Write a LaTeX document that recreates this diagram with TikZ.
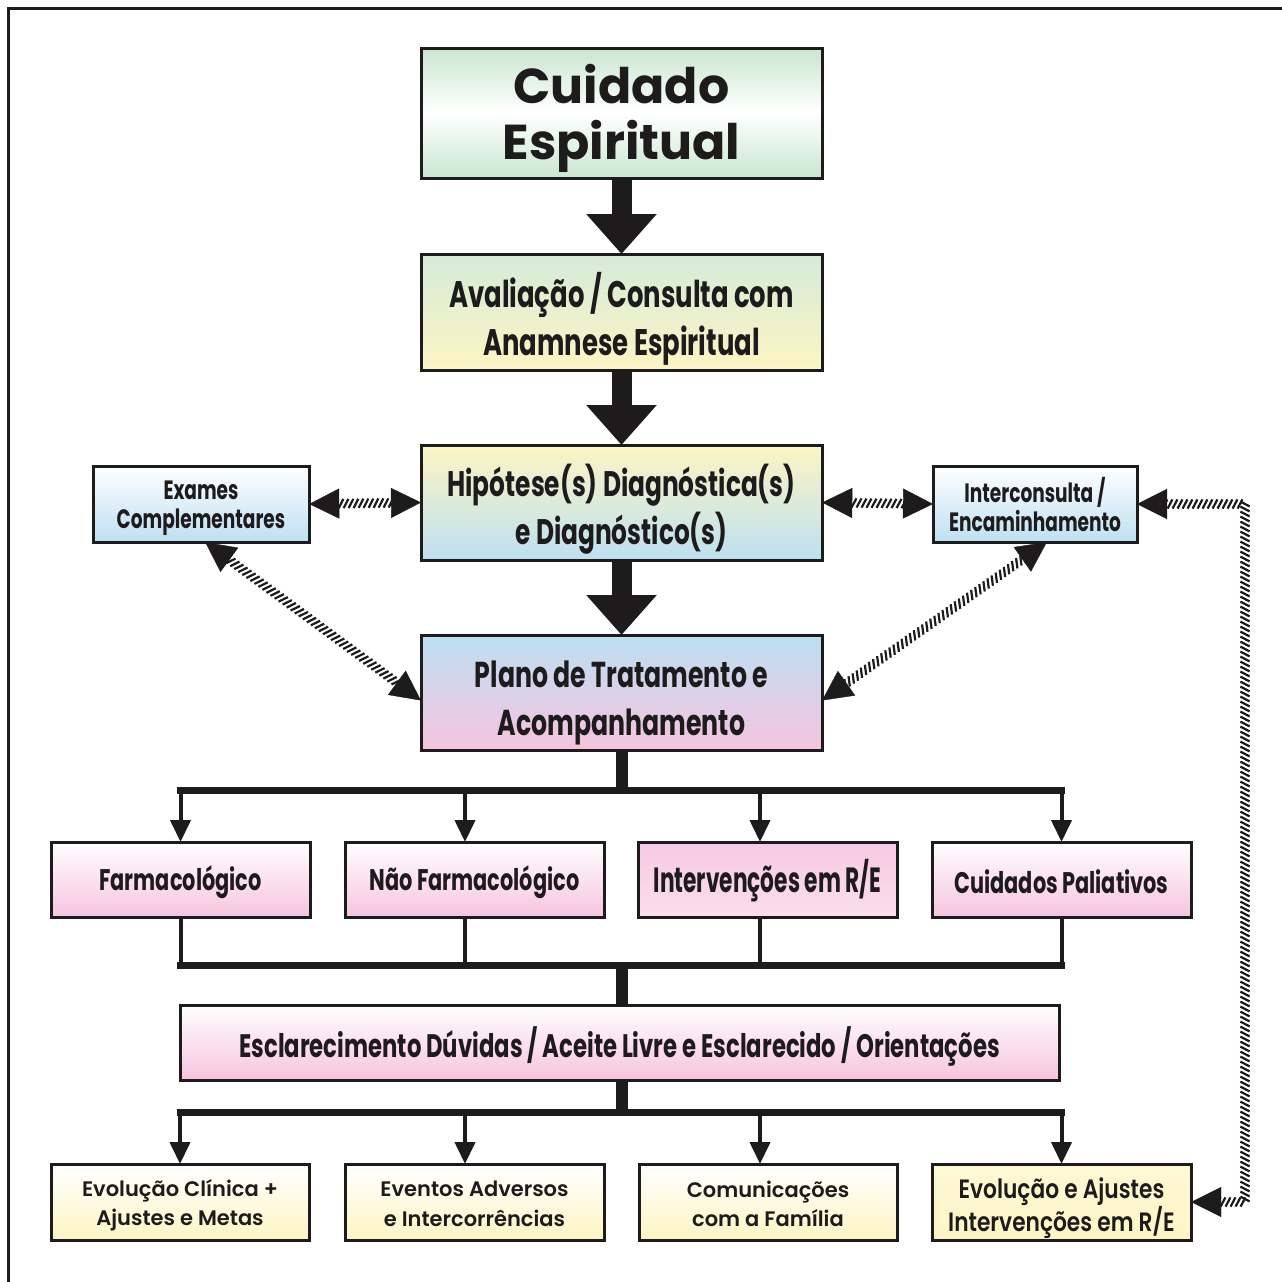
\documentclass[tikz,border=0pt]{standalone}
\usepackage{fontspec}
\usetikzlibrary{arrows.meta,decorations.markings,calc}
\newfontfamily\geo{Poppins}
\newfontfamily\geosb{Poppins SemiBold}
\newfontfamily\cnd[FakeStretch=0.7]{Poppins}
\newfontfamily\cndx[FakeStretch=0.62]{Poppins}
\newfontfamily\cndb[FakeStretch=0.82]{Poppins SemiBold}
\definecolor{gr}{HTML}{C9E6CF}
\definecolor{yl}{HTML}{FDF5C4}
\definecolor{bl}{HTML}{BDE0F2}
\definecolor{pk}{HTML}{F6C4DF}
\definecolor{ink}{HTML}{1E1B1C}
\tikzset{
  box/.style={draw=ink, line width=3pt, inner sep=0pt, outer sep=0pt, align=center, text=ink},
  lbl/.style={text=ink, align=center, inner sep=0pt},
  bigarrow/.style={draw=ink, fill=ink, line width=20pt, -{Triangle[length=40pt,width=68pt]}},
  stem/.style={draw=ink, line width=12pt},
  bar/.style={draw=ink, line width=7pt, line cap=rect},
  drop/.style={draw=ink, line width=4pt},
  droparrow/.style={draw=ink, line width=4pt, -{Triangle[length=22pt,width=20pt]}},
  hatch/.style={decoration={markings,
     mark=at position 0.2pt with {\arrowreversed[ink]{Triangle[length=30pt,width=30pt]}},
     mark=between positions 27pt and -27pt step 5pt with {\draw[ink, line width=2.2pt] (-2.4pt,-4.6pt) -- (2.4pt,4.6pt);},
     mark=at position 1 with {\arrow[ink]{Triangle[length=30pt,width=30pt]}}},
     postaction=decorate},
  ftitle/.style={font=\geo\bfseries\fontsize{49}{56}\selectfont},
  fsmall/.style={font=\cnd\bfseries\fontsize{26.5}{29}\selectfont},
  frow/.style={font=\cnd\bfseries\fontsize{29.8}{32}\selectfont},
  fbot/.style={font=\geosb\fontsize{21}{29.5}\selectfont},
}
\begin{document}
\begin{tikzpicture}[x=1pt,y=-1pt]
\useasboundingbox (0,0) rectangle (1282,1282);
\fill[white] (0,0) rectangle (1282,1282);
\draw[ink, line width=3pt] (8,1300) -- (8,8) -- (1300,8);

% main column
\node[box, minimum width=401pt, minimum height=130pt, top color=gr, bottom color=gr, middle color=white,
  label={[lbl, ftitle, yshift=-5pt]center:{Cuidado\\Espiritual}}] (cuid) at (621.5,113) {};
\node[box, minimum width=401pt, minimum height=116pt, top color=gr!80, bottom color=yl,
  label={[lbl, font=\cnd\bfseries\fontsize{37}{48}\selectfont, yshift=-7pt]center:{Avaliação / Consulta com\\Anamnese Espiritual}}] (aval) at (621.5,312) {};
\node[box, minimum width=401pt, minimum height=115pt, top color=yl, bottom color=bl,
  label={[lbl, font=\cnd\bfseries\fontsize{35.5}{48}\selectfont, yshift=-7pt]center:{Hipótese(s) Diagnóstica(s)\\e Diagnóstico(s)}}] (hyp) at (621.5,502.5) {};
\node[box, minimum width=401pt, minimum height=115pt, top color=bl, bottom color=pk,
  label={[lbl, font=\cnd\bfseries\fontsize{36}{48}\selectfont, yshift=-10pt]center:{Plano de Tratamento e\\Acompanhamento}}] (plan) at (621.5,692.5) {};

\node[box, minimum width=216pt, minimum height=76pt, top color=white, bottom color=bl,
  label={[lbl, fsmall, yshift=-4pt]center:{Exames\\Complementares}}] (ex) at (201,504) {};
\node[box, minimum width=204pt, minimum height=76pt, top color=white, bottom color=bl,
  label={[lbl, fsmall, yshift=-1pt]center:{Interconsulta /\\Encaminhamento}}] (inter) at (1035,504) {};

% row of treatments
\node[box, minimum width=259pt, minimum height=75pt, top color=white, bottom color=pk,
  label={[lbl, frow, yshift=-3pt]center:Farmacológico}] (farm) at (180.5,879.5) {};
\node[box, minimum width=259pt, minimum height=75pt, top color=white, bottom color=pk,
  label={[lbl, frow, yshift=-3pt]center:Não Farmacológico}] (nf) at (474.5,879.5) {};
\node[box, minimum width=259pt, minimum height=75pt, top color=pk!90, bottom color=pk!55,
  label={[lbl, font=\cndx\bfseries\fontsize{35}{38}\selectfont, yshift=-1pt]center:Intervenções em R/E}] (int) at (767.5,879.5) {};
\node[box, minimum width=259pt, minimum height=75pt, top color=white, bottom color=pk,
  label={[lbl, frow, yshift=-2pt]center:Cuidados Paliativos}] (cp) at (1061.5,879.5) {};

\node[box, minimum width=879pt, minimum height=75pt, top color=white, bottom color=pk,
  label={[lbl, font=\cnd\bfseries\fontsize{32.5}{34}\selectfont, yshift=-4pt]center:Esclarecimento Dúvidas / Aceite Livre e Esclarecido / Orientações}] (escl) at (619.5,1042.5) {};

% bottom row
\node[box, minimum width=258pt, minimum height=76pt, top color=white, bottom color=yl,
  label={[lbl, fbot, yshift=-3pt]center:{Evolução Clínica +\\Ajustes e Metas}}] (ev1) at (180,1202) {};
\node[box, minimum width=259pt, minimum height=76pt, top color=white, bottom color=yl,
  label={[lbl, fbot, yshift=-2pt]center:{Eventos Adversos\\e Intercorrências}}] (ev2) at (474.5,1202) {};
\node[box, minimum width=258pt, minimum height=76pt, top color=white, bottom color=yl,
  label={[lbl, fbot, yshift=-2pt]center:{Comunicações\\com a Família}}] (com) at (768,1202) {};
\node[box, minimum width=259pt, minimum height=76pt, top color=yl!70, bottom color=yl,
  label={[lbl, font=\cndb\fontsize{26.5}{30}\selectfont, yshift=-6pt]center:{Evolução e Ajustes\\Intervenções em R/E}}] (ev4) at (1061.5,1202) {};

% big arrows
\draw[bigarrow] (cuid.south) -- (aval.north);
\draw[bigarrow] (aval.south) -- (hyp.north);
\draw[bigarrow] (hyp.south) -- (plan.north);

% hatched arrows
\path[hatch] (ex.east) -- (hyp.west);
\path[hatch] (hyp.east) -- (inter.west);
\path[hatch] ([xshift=4pt]ex.south) -- ([yshift=-8pt]plan.west);
\path[hatch] ([xshift=12pt]inter.south) -- ([yshift=-8pt]plan.east);
\path[hatch] (ev4.east) -- ++(54,0) |- (inter.east);

% upper tree
\coordinate (b1) at (622,790);
\coordinate (nfx) at ([xshift=-9.5pt]nf.north);
\coordinate (intx) at ([xshift=-7.5pt]int.north);
\draw[stem] (b1 |- plan.south) -- (b1);
\draw[bar] (farm.north |- b1) -- (cp.north |- b1);
\draw[droparrow] (farm.north |- b1) -- (farm.north);
\draw[droparrow] (nfx |- b1) -- (nfx);
\draw[droparrow] (intx |- b1) -- (intx);
\draw[droparrow] (cp.north |- b1) -- (cp.north);

% lower collection
\coordinate (b2) at (622,965);
\coordinate (nfs) at ([xshift=-9.5pt]nf.south);
\coordinate (ints) at ([xshift=-7.5pt]int.south);
\draw[drop] (farm.south) -- (farm.south |- b2);
\draw[drop] (nfs) -- (nfs |- b2);
\draw[drop] (ints) -- (ints |- b2);
\draw[drop] (cp.south) -- (cp.south |- b2);
\draw[bar] (farm.south |- b2) -- (cp.south |- b2);
\draw[stem] (b2) -- (b2 |- escl.north);

% bottom tree
\coordinate (b3) at (622,1112);
\coordinate (ev2x) at ([xshift=-9.5pt]ev2.north);
\coordinate (comx) at ([xshift=-8pt]com.north);
\draw[stem] (b3 |- escl.south) -- (b3);
\draw[bar] (ev1.north |- b3) -- (ev4.north |- b3);
\draw[droparrow] (ev1.north |- b3) -- (ev1.north);
\draw[droparrow] (ev2x |- b3) -- (ev2x);
\draw[droparrow] (comx |- b3) -- (comx);
\draw[droparrow] (ev4.north |- b3) -- (ev4.north);
\end{tikzpicture}
\end{document}
